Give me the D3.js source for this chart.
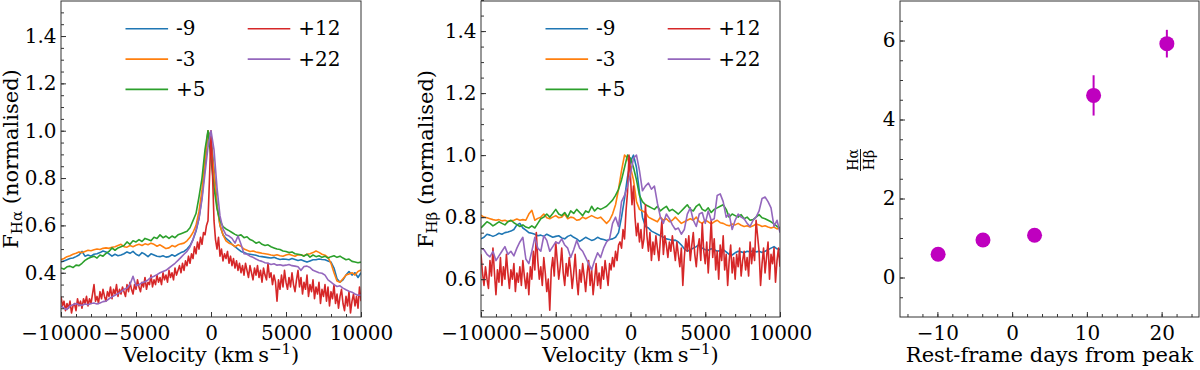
<!DOCTYPE html>
<html>
<head>
<meta charset="utf-8">
<script src="https://cdn.jsdelivr.net/npm/d3@7"></script>
<style>
  body { margin: 0; background: #ffffff; }
  svg text { font-family: 'DejaVu Serif', 'Liberation Serif', serif; fill: #000; }
</style>
</head>
<body>
<svg id="mainsvg" width="1200" height="370"></svg>
<script>
// ---------------- data ----------------
const epochLabels = ['-9', '-3', '+5', '+12', '+22'];
const epochColors = ['#1f77b4', '#ff7f0e', '#2ca02c', '#d62728', '#9467bd'];

// velocity sampling of the spectra (km/s)
const velCoarse = d3.range(-10000, 10001, 200);
const velFine = d3.range(-10000, 10001, 100);

// H-alpha, normalised flux
const haBlue = [
  0.445, 0.45, 0.455, 0.46, 0.462, 0.468, 0.475, 0.49, 0.47, 0.475,
  0.47, 0.478, 0.48, 0.485, 0.492, 0.488, 0.48, 0.47, 0.478, 0.472,
  0.475, 0.48, 0.488, 0.482, 0.49, 0.478, 0.472, 0.485, 0.478, 0.468,
  0.48, 0.475, 0.47, 0.468, 0.472, 0.466, 0.468, 0.476, 0.47, 0.478,
  0.485, 0.49, 0.5, 0.515, 0.54, 0.575, 0.63, 0.72, 0.85, 1.0,
  0.97, 0.84, 0.69, 0.6, 0.56, 0.545, 0.535, 0.52, 0.51, 0.5,
  0.49, 0.485, 0.48, 0.478, 0.476, 0.474, 0.47, 0.468, 0.466, 0.464,
  0.462, 0.465, 0.46, 0.456, 0.458, 0.457, 0.455, 0.46, 0.456, 0.452,
  0.455, 0.45, 0.445, 0.45, 0.455, 0.455, 0.458, 0.456, 0.455, 0.45,
  0.445, 0.42, 0.375, 0.36, 0.37, 0.39, 0.405, 0.39, 0.4, 0.38,
  0.40
];
const haOrange = [
  0.455, 0.46, 0.468, 0.472, 0.478, 0.482, 0.488, 0.485, 0.49, 0.495,
  0.493, 0.497, 0.5, 0.498, 0.503, 0.505, 0.503, 0.508, 0.51, 0.515,
  0.52, 0.51, 0.508, 0.515, 0.51, 0.516, 0.52, 0.515, 0.522, 0.518,
  0.525, 0.52, 0.512, 0.518, 0.51, 0.502, 0.505, 0.515, 0.51, 0.518,
  0.522, 0.525, 0.535, 0.55, 0.57, 0.6, 0.66, 0.75, 0.88, 1.0,
  0.95, 0.82, 0.68, 0.6, 0.56, 0.535, 0.525, 0.52, 0.51, 0.518,
  0.512, 0.5, 0.495, 0.49, 0.492, 0.488, 0.485, 0.482, 0.48, 0.478,
  0.475, 0.473, 0.476, 0.472, 0.47, 0.475, 0.478, 0.474, 0.47, 0.476,
  0.475, 0.472, 0.478, 0.48, 0.485, 0.492, 0.486, 0.478, 0.474, 0.465,
  0.44, 0.4, 0.365, 0.36, 0.375, 0.39, 0.395, 0.4, 0.39, 0.405,
  0.412
];
const haGreen = [
  0.42, 0.415, 0.425, 0.428, 0.422, 0.432, 0.43, 0.44, 0.452, 0.46,
  0.465, 0.47, 0.462, 0.475, 0.47, 0.482, 0.49, 0.505, 0.495, 0.505,
  0.51, 0.515, 0.53, 0.52, 0.535, 0.53, 0.54, 0.532, 0.545, 0.54,
  0.535, 0.55, 0.545, 0.56, 0.548, 0.555, 0.545, 0.555, 0.548, 0.56,
  0.565, 0.57, 0.575, 0.59, 0.62, 0.65, 0.72, 0.8, 0.92, 1.0,
  0.88, 0.76, 0.67, 0.62, 0.595, 0.585, 0.578, 0.57, 0.562, 0.556,
  0.56, 0.548, 0.552, 0.54, 0.535, 0.525, 0.53, 0.52, 0.515, 0.518,
  0.51, 0.505, 0.5, 0.498, 0.492, 0.49, 0.485, 0.488, 0.48, 0.478,
  0.476, 0.47, 0.478, 0.466, 0.475, 0.468, 0.472, 0.465, 0.47, 0.462,
  0.468, 0.472, 0.465, 0.47, 0.462, 0.455, 0.458, 0.448, 0.445, 0.442,
  0.445
];
const haRed = [
  0.30, 0.26, 0.28, 0.24, 0.27, 0.25, 0.28, 0.23, 0.26, 0.27,
  0.24, 0.29, 0.26, 0.28, 0.25, 0.29, 0.27, 0.30, 0.26, 0.29,
  0.27, 0.31, 0.35, 0.28, 0.30, 0.27, 0.32, 0.29, 0.33, 0.30,
  0.28, 0.32, 0.30, 0.34, 0.29, 0.33, 0.31, 0.35, 0.30, 0.33,
  0.31, 0.34, 0.32, 0.30, 0.35, 0.32, 0.36, 0.33, 0.31, 0.35,
  0.33, 0.37, 0.34, 0.32, 0.36, 0.34, 0.38, 0.33, 0.36, 0.35,
  0.39, 0.34, 0.37, 0.35, 0.39, 0.36, 0.38, 0.35, 0.40, 0.37,
  0.39, 0.36, 0.41, 0.38, 0.40, 0.37, 0.42, 0.39, 0.41, 0.43,
  0.40, 0.44, 0.41, 0.45, 0.43, 0.47, 0.44, 0.48, 0.46, 0.51,
  0.48, 0.53, 0.50, 0.55, 0.52, 0.57, 0.56, 0.60, 0.62, 0.80,
  1.00, 0.82, 0.62, 0.54, 0.50, 0.55, 0.47, 0.50, 0.45, 0.48,
  0.46, 0.49, 0.44, 0.47, 0.43, 0.46, 0.42, 0.45, 0.41, 0.44,
  0.40, 0.43, 0.39, 0.44, 0.41, 0.38, 0.43, 0.40, 0.37, 0.42,
  0.39, 0.43, 0.38, 0.41, 0.36, 0.42, 0.39, 0.37, 0.44, 0.38,
  0.40, 0.35, 0.39, 0.36, 0.28, 0.37, 0.33, 0.39, 0.34, 0.41,
  0.36, 0.33, 0.38, 0.34, 0.40, 0.35, 0.32, 0.37, 0.41, 0.34,
  0.38, 0.31, 0.36, 0.33, 0.39, 0.30, 0.35, 0.32, 0.37, 0.29,
  0.34, 0.31, 0.36, 0.27, 0.33, 0.30, 0.35, 0.28, 0.34, 0.26,
  0.32, 0.29, 0.35, 0.27, 0.31, 0.25, 0.30, 0.33, 0.27, 0.24,
  0.30, 0.26, 0.32, 0.23, 0.28, 0.31, 0.26, 0.30, 0.25, 0.34,
  0.28
];
const haPurple = [
  0.26, 0.25, 0.245, 0.26, 0.265, 0.27, 0.265, 0.262, 0.268, 0.265,
  0.27, 0.272, 0.268, 0.272, 0.278, 0.28, 0.29, 0.298, 0.305, 0.312,
  0.32, 0.33, 0.335, 0.35, 0.385, 0.345, 0.35, 0.358, 0.362, 0.37,
  0.38, 0.385, 0.392, 0.4, 0.405, 0.41, 0.42, 0.43, 0.44, 0.452,
  0.465, 0.478, 0.49, 0.51, 0.54, 0.58, 0.63, 0.71, 0.82, 0.93,
  1.0, 0.92, 0.76, 0.64, 0.585, 0.56, 0.555, 0.545, 0.525, 0.555,
  0.52, 0.48, 0.478, 0.47, 0.465, 0.458, 0.452, 0.448, 0.442, 0.44,
  0.435, 0.438, 0.432, 0.434, 0.43, 0.432, 0.435, 0.43, 0.428, 0.425,
  0.41, 0.426, 0.428, 0.422, 0.41, 0.405, 0.4, 0.398, 0.39, 0.37,
  0.36, 0.35, 0.342, 0.345, 0.335, 0.328, 0.322, 0.318, 0.31, 0.305,
  0.306
];

// H-beta, normalised flux
const hbBlue = [
  0.73, 0.735, 0.745, 0.742, 0.738, 0.742, 0.748, 0.745, 0.75, 0.752,
  0.755, 0.76, 0.775, 0.78, 0.765, 0.758, 0.75, 0.748, 0.745, 0.74,
  0.742, 0.738, 0.745, 0.74, 0.735, 0.738, 0.74, 0.733, 0.73, 0.738,
  0.742, 0.735, 0.73, 0.722, 0.728, 0.735, 0.73, 0.725, 0.728, 0.735,
  0.73, 0.728, 0.725, 0.728, 0.73, 0.735, 0.75, 0.80, 0.86, 0.93,
  0.98, 1.0, 0.96, 0.88, 0.80, 0.77, 0.765, 0.755, 0.75, 0.745,
  0.74, 0.735, 0.73, 0.728, 0.725, 0.726, 0.72, 0.71, 0.698, 0.69,
  0.695, 0.70, 0.705, 0.712, 0.70, 0.695, 0.693, 0.698, 0.695, 0.69,
  0.692, 0.695, 0.688, 0.68, 0.678, 0.685, 0.69, 0.688, 0.685, 0.69,
  0.688, 0.692, 0.688, 0.69, 0.686, 0.69, 0.695, 0.70, 0.705, 0.698,
  0.695
];
const hbOrange = [
  0.806, 0.80, 0.798, 0.795, 0.792, 0.79, 0.792, 0.788, 0.79, 0.786,
  0.788, 0.79, 0.794, 0.79, 0.792, 0.79, 0.81, 0.822, 0.79, 0.796,
  0.80, 0.81, 0.798, 0.795, 0.80, 0.805, 0.798, 0.80, 0.81, 0.795,
  0.80, 0.798, 0.79, 0.792, 0.80, 0.795, 0.80, 0.805, 0.80, 0.796,
  0.80, 0.79, 0.78, 0.79, 0.81, 0.84, 0.89, 0.95, 1.0, 0.99,
  0.96, 0.92, 0.85, 0.825, 0.82, 0.815, 0.80, 0.795, 0.79, 0.785,
  0.80, 0.79, 0.795, 0.785, 0.79, 0.80, 0.79, 0.78, 0.785, 0.79,
  0.795, 0.79, 0.80, 0.785, 0.78, 0.79, 0.785, 0.778, 0.785, 0.79,
  0.782, 0.78, 0.775, 0.772, 0.778, 0.775, 0.78, 0.774, 0.77, 0.772,
  0.768, 0.772, 0.778, 0.775, 0.77, 0.772, 0.768, 0.765, 0.768, 0.762,
  0.765
];
const hbGreen = [
  0.765, 0.775, 0.785, 0.78, 0.772, 0.778, 0.785, 0.78, 0.775, 0.785,
  0.79, 0.782, 0.776, 0.77, 0.775, 0.768, 0.765, 0.772, 0.765, 0.78,
  0.795, 0.80, 0.81, 0.80, 0.812, 0.825, 0.81, 0.805, 0.815, 0.80,
  0.82, 0.812, 0.825, 0.815, 0.805, 0.82, 0.815, 0.835, 0.82, 0.83,
  0.825, 0.83, 0.835, 0.845, 0.855, 0.87, 0.89, 0.92, 0.96, 1.0,
  0.99, 0.96, 0.92, 0.87, 0.85, 0.84, 0.835, 0.83, 0.825, 0.835,
  0.82, 0.828, 0.835, 0.82, 0.825, 0.818, 0.81, 0.82, 0.83, 0.84,
  0.825, 0.82, 0.835, 0.842, 0.825, 0.82, 0.83, 0.815, 0.825, 0.83,
  0.835, 0.84, 0.825, 0.80, 0.81, 0.805, 0.80, 0.808, 0.795, 0.80,
  0.79, 0.792, 0.80, 0.808, 0.798, 0.795, 0.79, 0.785, 0.778, 0.77,
  0.765
];
const hbRed = [
  0.68, 0.62, 0.58, 0.64, 0.60, 0.57, 0.66, 0.61, 0.70, 0.62,
  0.55, 0.63, 0.59, 0.67, 0.58, 0.64, 0.60, 0.68, 0.62, 0.57,
  0.63, 0.60, 0.65, 0.56, 0.62, 0.59, 0.64, 0.58, 0.66, 0.61,
  0.57, 0.62, 0.55, 0.64, 0.60, 0.69, 0.63, 0.75, 0.66, 0.60,
  0.64, 0.58, 0.67, 0.62, 0.56, 0.60, 0.50, 0.63, 0.67, 0.61,
  0.72, 0.66, 0.60, 0.64, 0.70, 0.62, 0.58, 0.65, 0.61, 0.67,
  0.63, 0.57, 0.62, 0.68, 0.60, 0.55, 0.63, 0.59, 0.65, 0.61,
  0.56, 0.62, 0.66, 0.58, 0.63, 0.55, 0.60, 0.65, 0.58, 0.62,
  0.57, 0.64, 0.60, 0.66, 0.62, 0.58, 0.65, 0.63, 0.67, 0.64,
  0.69, 0.66, 0.71, 0.72, 0.70, 0.76, 0.73, 0.82, 0.88, 1.0,
  0.93, 0.84, 0.90, 0.80, 0.74, 0.78, 0.72, 0.76, 0.70, 0.73,
  0.84, 0.74, 0.69, 0.75, 0.66, 0.72, 0.68, 0.74, 0.70, 0.66,
  0.73, 0.79, 0.68, 0.74, 0.71, 0.67, 0.72, 0.69, 0.74, 0.70,
  0.66, 0.72, 0.68, 0.64, 0.70, 0.58, 0.67, 0.73, 0.69, 0.74,
  0.66, 0.71, 0.75, 0.68, 0.64, 0.70, 0.73, 0.66, 0.78, 0.69,
  0.65, 0.72, 0.62, 0.70, 0.79, 0.67, 0.73, 0.63, 0.69, 0.60,
  0.71, 0.66, 0.74, 0.63, 0.68, 0.58, 0.66, 0.71, 0.62, 0.67,
  0.60, 0.68, 0.64, 0.70, 0.61, 0.66, 0.69, 0.63, 0.67, 0.61,
  0.72, 0.65, 0.70, 0.66, 0.79, 0.74, 0.69, 0.58, 0.65, 0.70,
  0.62, 0.67, 0.72, 0.60, 0.68, 0.65, 0.70, 0.59, 0.66, 0.70,
  0.64
];
const hbPurple = [
  0.70, 0.695, 0.68, 0.672, 0.69, 0.66, 0.675, 0.69, 0.705, 0.68,
  0.69, 0.675, 0.70, 0.72, 0.735, 0.665, 0.65, 0.69, 0.735, 0.70,
  0.69, 0.74, 0.725, 0.69, 0.705, 0.72, 0.715, 0.73, 0.71, 0.70,
  0.67, 0.695, 0.725, 0.70, 0.69, 0.67, 0.65, 0.63, 0.66, 0.685,
  0.67, 0.70, 0.72, 0.73, 0.78, 0.80, 0.77, 0.85, 0.87, 0.90,
  0.94, 0.99, 1.0, 0.95, 0.885, 0.90, 0.91, 0.89, 0.90, 0.845,
  0.80, 0.78, 0.81, 0.795, 0.775, 0.76, 0.765, 0.745, 0.76, 0.81,
  0.83, 0.79, 0.77, 0.81, 0.815, 0.78, 0.82, 0.79, 0.795, 0.87,
  0.875, 0.85, 0.80, 0.81, 0.76, 0.79, 0.81, 0.80, 0.795, 0.78,
  0.77, 0.79, 0.80, 0.82, 0.86, 0.865, 0.85, 0.83, 0.77, 0.79,
  0.75
];

// Balmer decrement
const days = [-9.9, -3.9, 3.0, 10.9, 20.7];
const ratio = [0.59, 0.95, 1.07, 4.61, 5.92];
const ratioErr = [0.05, 0.05, 0.05, 0.51, 0.35];

// ticks
const velTicks = [-10000, -5000, 0, 5000, 10000];
const haTicksY = [0.4, 0.6, 0.8, 1.0, 1.2, 1.4];
const hbTicksY = [0.6, 0.8, 1.0, 1.2, 1.4];
const dayTicks = [-10, 0, 10, 20];
const ratioTicks = [0, 2, 4, 6];

// ---------------- layout ----------------
const svg = d3.select('#mainsvg');
const plotTop = 1;
const plotH = 316;
const fontSize = 20;      // ticks, legend
const labelSize = 21;     // axis titles
const serif = "'DejaVu Serif', 'Liberation Serif', serif";

const drawAxes = function(g, xScale, yScale, opt) {
    const w = xScale.range()[1];
    const h = yScale.range()[0];
    // minor ticks (inward)
    g.append('g').attr('transform', `translate(0, ${h})`)
        .call(d3.axisBottom(xScale).tickValues(opt.xMinor).tickFormat('')
            .tickSizeInner(-3).tickSizeOuter(0));
    g.append('g')
        .call(d3.axisLeft(yScale).tickValues(opt.yMinor).tickFormat('')
            .tickSizeInner(-3).tickSizeOuter(0));
    // major ticks with labels
    g.append('g').attr('transform', `translate(0, ${h})`)
        .call(d3.axisBottom(xScale).tickValues(opt.xTicks).tickFormat(opt.xFormat)
            .tickSizeInner(-5).tickSizeOuter(0).tickPadding(8.5));
    g.append('g')
        .call(d3.axisLeft(yScale).tickValues(opt.yTicks).tickFormat(opt.yFormat)
            .tickSizeInner(-5).tickSizeOuter(0).tickPadding(4.5));
    g.selectAll('.domain').remove();
    g.selectAll('g').attr('font-family', serif);
    g.selectAll('.tick line').attr('stroke', '#333');
    g.selectAll('.tick text')
        .attr('font-size', fontSize + 'px')
        .style('font-family', serif)
        .attr('fill', '#000');
    // frame
    g.append('rect')
        .attr('width', w).attr('height', h)
        .attr('fill', 'none').attr('stroke', '#333').attr('stroke-width', 1);
};

const drawXLabelVelocity = function(g, cx) {
    const t = g.append('text')
        .attr('x', cx).attr('y', 362)
        .attr('text-anchor', 'middle')
        .style('font-family', serif)
        .attr('font-size', labelSize + 'px');
    t.append('tspan').text('Velocity (km\u2009s');
    t.append('tspan').attr('font-size', '15px').attr('dy', -8).text('\u22121');
    t.append('tspan').attr('dy', 8).text(')');
};

const spectrumPanels = [
    { left: 61, width: 300, ylim: [0.213, 1.548], yTicks: haTicksY, yMinorFrom: 0.25,
      sub: 'H\u03b1', labelX: 17.5,
      series: [[velCoarse, haBlue], [velCoarse, haOrange], [velCoarse, haGreen],
               [velFine, haRed], [velCoarse, haPurple]] },
    { left: 481, width: 299, ylim: [0.478, 1.497], yTicks: hbTicksY, yMinorFrom: 0.5,
      sub: 'H\u03b2', labelX: 433,
      series: [[velCoarse, hbBlue], [velCoarse, hbOrange], [velCoarse, hbGreen],
               [velFine, hbRed], [velCoarse, hbPurple]] }
];

spectrumPanels.forEach((p, pi) => {
    const g = svg.append('g').attr('transform', `translate(${p.left}, ${plotTop})`);
    const xScale = d3.scaleLinear().domain([-10000, 10000]).range([0, p.width]);
    const yScale = d3.scaleLinear().domain(p.ylim).range([plotH, 0]);

    // clip the spectra to the axes box
    svg.append('clipPath').attr('id', 'clip' + pi)
        .append('rect').attr('width', p.width).attr('height', plotH);

    const line = d3.line()
        .x(d => xScale(d[0]))
        .y(d => yScale(d[1]));

    const lines = g.append('g').attr('clip-path', `url(#clip${pi})`);
    p.series.forEach((s, i) => {
        const pts = s[0].map((v, k) => [v, s[1][k]]);
        lines.append('path').datum(pts)
            .attr('fill', 'none')
            .attr('stroke', epochColors[i])
            .attr('stroke-width', 1.6)
            .attr('stroke-linejoin', 'round')
            .attr('d', line);
    });

    drawAxes(g, xScale, yScale, {
        xTicks: velTicks, xFormat: d3.format('d'),
        xMinor: d3.range(-10000, 10001, 1000),
        yTicks: p.yTicks, yFormat: d3.format('.1f'),
        yMinor: d3.range(p.yMinorFrom, 1.54, 0.05)
    });

    // legend, 2 columns, no frame
    epochLabels.forEach((lab, i) => {
        const col = i < 3 ? 0 : 1;
        const row = col === 0 ? i : i - 3;
        const x0 = col === 0 ? 64.5 : 186.7;
        const y0 = 27.8 + row * 30.3;
        g.append('line')
            .attr('x1', x0).attr('x2', x0 + 42.6)
            .attr('y1', y0).attr('y2', y0)
            .attr('stroke', epochColors[i]).attr('stroke-width', 1.6);
        g.append('text')
            .attr('x', x0 + 50.6).attr('y', y0).attr('dy', '0.33em')
            .style('font-family', serif)
            .attr('font-size', fontSize + 'px')
            .text(lab);
    });

    drawXLabelVelocity(svg, p.left + p.width / 2);

    // y label: F_H? (normalised)
    const yl = svg.append('text')
        .attr('transform', `translate(${p.labelX}, ${plotTop + plotH / 2}) rotate(-90)`)
        .attr('text-anchor', 'middle')
        .style('font-family', serif)
        .attr('font-size', labelSize + 'px');
    yl.append('tspan').text('F');
    yl.append('tspan').attr('font-size', '15px').attr('dy', 4).text(p.sub);
    yl.append('tspan').attr('dy', -4).text(' (normalised)');
});

// ---------------- Balmer decrement panel ----------------
const g3 = svg.append('g').attr('transform', `translate(900, ${plotTop})`);
const xScale3 = d3.scaleLinear().domain([-15, 25]).range([0, 299]);
const yScale3 = d3.scaleLinear().domain([-1, 7]).range([plotH, 0]);

drawAxes(g3, xScale3, yScale3, {
    xTicks: dayTicks, xFormat: d3.format('d'),
    xMinor: d3.range(-14, 25, 2),
    yTicks: ratioTicks, yFormat: d3.format('d'),
    yMinor: d3.range(-0.5, 7, 0.5)
});

const pts3 = days.map((d, i) => ({ x: d, y: ratio[i], e: ratioErr[i] }));
g3.selectAll('.ebar').data(pts3).enter().append('line')
    .attr('class', 'ebar')
    .attr('x1', d => xScale3(d.x)).attr('x2', d => xScale3(d.x))
    .attr('y1', d => yScale3(d.y - d.e)).attr('y2', d => yScale3(d.y + d.e))
    .attr('stroke', '#bf00bf').attr('stroke-width', 2);
g3.selectAll('.pt').data(pts3).enter().append('circle')
    .attr('class', 'pt')
    .attr('cx', d => xScale3(d.x)).attr('cy', d => yScale3(d.y))
    .attr('r', 7.5)
    .attr('fill', '#bf00bf');

svg.append('text')
    .attr('x', 900 + 299 / 2).attr('y', 362)
    .attr('text-anchor', 'middle')
    .style('font-family', serif)
    .attr('font-size', labelSize + 'px')
    .text('Rest-frame days from peak');

// y label: H-alpha over H-beta as a fraction
const frac = svg.append('g').attr('transform', 'translate(860.5, 160) rotate(-90)');
frac.append('text').attr('x', 0).attr('y', -2.5)
    .attr('text-anchor', 'middle').style('font-family', serif)
    .attr('font-size', '14px').text('H\u03b1');
frac.append('line').attr('x1', -11).attr('x2', 11).attr('y1', 0).attr('y2', 0)
    .attr('stroke', '#000').attr('stroke-width', 0.9);
frac.append('text').attr('x', 0).attr('y', 13.5)
    .attr('text-anchor', 'middle').style('font-family', serif)
    .attr('font-size', '14px').text('H\u03b2');
</script>
</body>
</html>
